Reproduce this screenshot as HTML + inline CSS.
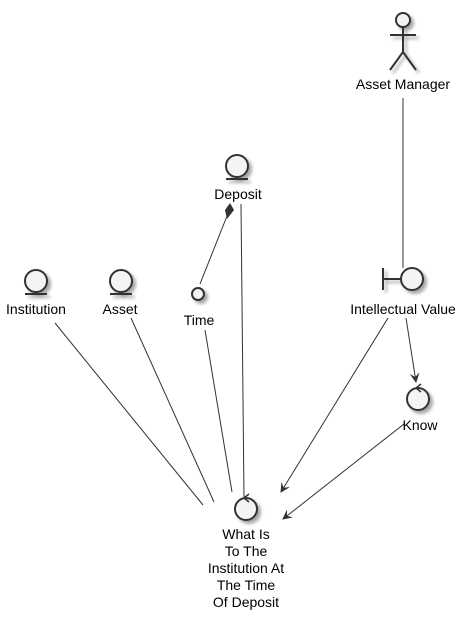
<!DOCTYPE html>
<html><head><style>body{margin:0;background:#fff}svg{display:block}text{font-family:"Liberation Sans",sans-serif;font-size:14px;fill:#000}</style></head>
<body>
<svg width="467" height="622" viewBox="0 0 467 622">
<defs>
<filter id="sh" x="-50%" y="-50%" width="200%" height="200%"><feGaussianBlur in="SourceAlpha" stdDeviation="1.5"/><feOffset dx="3" dy="3"/><feComponentTransfer><feFuncA type="linear" slope="0.35"/></feComponentTransfer><feMerge><feMergeNode/><feMergeNode in="SourceGraphic"/></feMerge></filter>
<marker id="ar" markerWidth="12" markerHeight="12" refX="9" refY="5" orient="auto" markerUnits="userSpaceOnUse"><path d="M0,0 L10,5 L0,10 L4,5 Z" fill="#333"/></marker>
</defs>
<g stroke="#333" stroke-width="1" fill="none">
<line x1="403" y1="98" x2="403" y2="268"/>
<line x1="55" y1="323" x2="203" y2="505"/>
<line x1="131" y1="318" x2="214" y2="502"/>
<line x1="205" y1="330" x2="232" y2="492"/>
<line x1="200" y1="284" x2="227" y2="216"/>
<line x1="241" y1="204" x2="244" y2="497"/>
<line x1="388" y1="318" x2="281" y2="492" marker-end="url(#ar)"/>
<line x1="406" y1="318" x2="416" y2="382" marker-end="url(#ar)"/>
<line x1="404" y1="424" x2="283" y2="519" marker-end="url(#ar)"/>
</g>
<path d="M230,203 L234,210 L227,219 L225,210 Z" fill="#333"/>
<g stroke="#333" stroke-width="2" fill="#f4f4f4" filter="url(#sh)">
<g><circle cx="403" cy="20" r="7"/><line x1="403" y1="27" x2="403" y2="52"/><line x1="390" y1="35" x2="416" y2="35"/><polyline points="390,70 403,52 416,70" fill="none"/></g>
<g><circle cx="237" cy="166" r="11"/><line x1="226" y1="179" x2="248" y2="179"/></g>
<g><circle cx="36" cy="281" r="11"/><line x1="25" y1="294" x2="47" y2="294"/></g>
<g><circle cx="121" cy="281" r="11"/><line x1="110" y1="294" x2="132" y2="294"/></g>
<circle cx="198" cy="294" r="6"/>
<g><circle cx="412" cy="279" r="11"/><line x1="383" y1="268" x2="383" y2="290"/><line x1="383" y1="279" x2="401" y2="279"/></g>
<circle cx="418" cy="399" r="11"/>
<circle cx="246" cy="509" r="11"/>
</g>
<g stroke="#333" stroke-width="1.5" fill="none">
<polyline points="421,384 416,388 421,392"/>
<polyline points="249,494 244,498 249,502"/>
</g>
<g text-anchor="middle">
<text x="403" y="89">Asset Manager</text>
<text x="238" y="199">Deposit</text>
<text x="36" y="314">Institution</text>
<text x="120" y="314">Asset</text>
<text x="199" y="325">Time</text>
<text x="403" y="314">Intellectual Value</text>
<text x="420" y="430">Know</text>
<text x="246" y="539">What Is</text>
<text x="246" y="556">To The</text>
<text x="246" y="573">Institution At</text>
<text x="246" y="590">The Time</text>
<text x="246" y="607">Of Deposit</text>
</g>
</svg>
</body></html>
